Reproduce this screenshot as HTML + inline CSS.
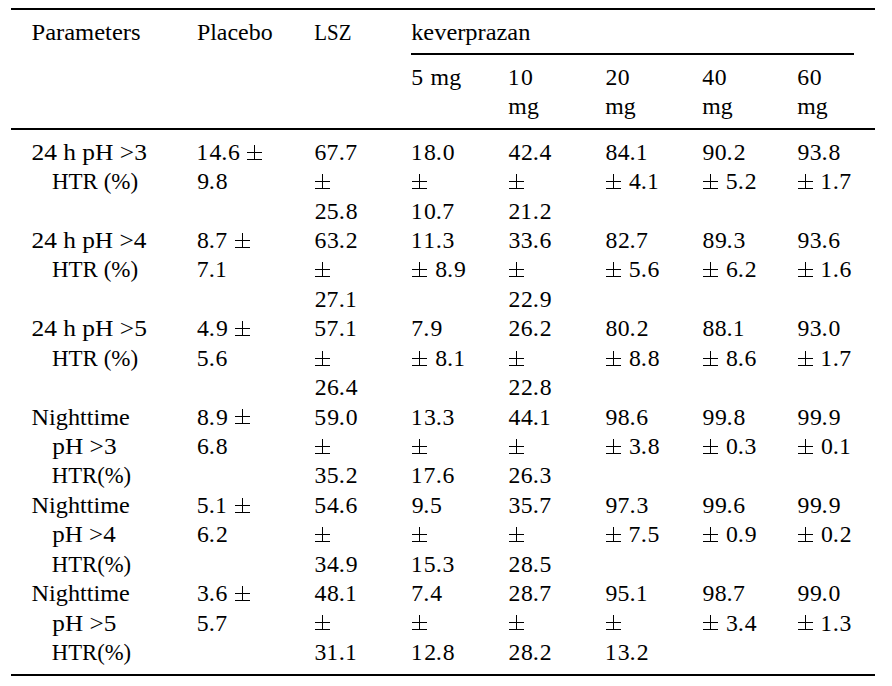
<!DOCTYPE html>
<html><head><meta charset="utf-8"><style>
html,body{margin:0;padding:0;background:#fff;width:892px;height:686px;overflow:hidden}
svg{display:block}
text{font-family:"Liberation Serif",serif;font-size:22.4px;fill:#000;white-space:pre}
</style></head><body>
<svg width="892" height="686" viewBox="0 0 892 686">
<rect x="11" y="8" width="864" height="2"/><rect x="411" y="53" width="443" height="2"/><rect x="11" y="128" width="864" height="2"/><rect x="11" y="674" width="864" height="2"/>
<rect x="247" y="159" width="15" height="1"/><rect x="247" y="152" width="15" height="1"/><rect x="254" y="145" width="1" height="15"/><rect x="315" y="188" width="15" height="1"/><rect x="315" y="181" width="15" height="1"/><rect x="322" y="174" width="1" height="15"/><rect x="412" y="188" width="15" height="1"/><rect x="412" y="181" width="15" height="1"/><rect x="419" y="174" width="1" height="15"/><rect x="509" y="188" width="15" height="1"/><rect x="509" y="181" width="15" height="1"/><rect x="516" y="174" width="1" height="15"/><rect x="606" y="188" width="15" height="1"/><rect x="606" y="181" width="15" height="1"/><rect x="613" y="174" width="1" height="15"/><rect x="703" y="188" width="15" height="1"/><rect x="703" y="181" width="15" height="1"/><rect x="710" y="174" width="1" height="15"/><rect x="798" y="188" width="15" height="1"/><rect x="798" y="181" width="15" height="1"/><rect x="805" y="174" width="1" height="15"/><rect x="235" y="247" width="15" height="1"/><rect x="235" y="240" width="15" height="1"/><rect x="242" y="233" width="1" height="15"/><rect x="315" y="276" width="15" height="1"/><rect x="315" y="269" width="15" height="1"/><rect x="322" y="262" width="1" height="15"/><rect x="412" y="276" width="15" height="1"/><rect x="412" y="269" width="15" height="1"/><rect x="419" y="262" width="1" height="15"/><rect x="509" y="276" width="15" height="1"/><rect x="509" y="269" width="15" height="1"/><rect x="516" y="262" width="1" height="15"/><rect x="606" y="276" width="15" height="1"/><rect x="606" y="269" width="15" height="1"/><rect x="613" y="262" width="1" height="15"/><rect x="703" y="276" width="15" height="1"/><rect x="703" y="269" width="15" height="1"/><rect x="710" y="262" width="1" height="15"/><rect x="798" y="276" width="15" height="1"/><rect x="798" y="269" width="15" height="1"/><rect x="805" y="262" width="1" height="15"/><rect x="235" y="335" width="15" height="1"/><rect x="235" y="328" width="15" height="1"/><rect x="242" y="321" width="1" height="15"/><rect x="315" y="365" width="15" height="1"/><rect x="315" y="358" width="15" height="1"/><rect x="322" y="351" width="1" height="15"/><rect x="412" y="365" width="15" height="1"/><rect x="412" y="358" width="15" height="1"/><rect x="419" y="351" width="1" height="15"/><rect x="509" y="365" width="15" height="1"/><rect x="509" y="358" width="15" height="1"/><rect x="516" y="351" width="1" height="15"/><rect x="606" y="365" width="15" height="1"/><rect x="606" y="358" width="15" height="1"/><rect x="613" y="351" width="1" height="15"/><rect x="703" y="365" width="15" height="1"/><rect x="703" y="358" width="15" height="1"/><rect x="710" y="351" width="1" height="15"/><rect x="798" y="365" width="15" height="1"/><rect x="798" y="358" width="15" height="1"/><rect x="805" y="351" width="1" height="15"/><rect x="235" y="423" width="15" height="1"/><rect x="235" y="416" width="15" height="1"/><rect x="242" y="409" width="1" height="15"/><rect x="315" y="453" width="15" height="1"/><rect x="315" y="446" width="15" height="1"/><rect x="322" y="439" width="1" height="15"/><rect x="412" y="453" width="15" height="1"/><rect x="412" y="446" width="15" height="1"/><rect x="419" y="439" width="1" height="15"/><rect x="509" y="453" width="15" height="1"/><rect x="509" y="446" width="15" height="1"/><rect x="516" y="439" width="1" height="15"/><rect x="606" y="453" width="15" height="1"/><rect x="606" y="446" width="15" height="1"/><rect x="613" y="439" width="1" height="15"/><rect x="703" y="453" width="15" height="1"/><rect x="703" y="446" width="15" height="1"/><rect x="710" y="439" width="1" height="15"/><rect x="798" y="453" width="15" height="1"/><rect x="798" y="446" width="15" height="1"/><rect x="805" y="439" width="1" height="15"/><rect x="235" y="512" width="15" height="1"/><rect x="235" y="505" width="15" height="1"/><rect x="242" y="498" width="1" height="15"/><rect x="315" y="541" width="15" height="1"/><rect x="315" y="534" width="15" height="1"/><rect x="322" y="527" width="1" height="15"/><rect x="412" y="541" width="15" height="1"/><rect x="412" y="534" width="15" height="1"/><rect x="419" y="527" width="1" height="15"/><rect x="509" y="541" width="15" height="1"/><rect x="509" y="534" width="15" height="1"/><rect x="516" y="527" width="1" height="15"/><rect x="606" y="541" width="15" height="1"/><rect x="606" y="534" width="15" height="1"/><rect x="613" y="527" width="1" height="15"/><rect x="703" y="541" width="15" height="1"/><rect x="703" y="534" width="15" height="1"/><rect x="710" y="527" width="1" height="15"/><rect x="798" y="541" width="15" height="1"/><rect x="798" y="534" width="15" height="1"/><rect x="805" y="527" width="1" height="15"/><rect x="235" y="600" width="15" height="1"/><rect x="235" y="593" width="15" height="1"/><rect x="242" y="586" width="1" height="15"/><rect x="315" y="629" width="15" height="1"/><rect x="315" y="622" width="15" height="1"/><rect x="322" y="615" width="1" height="15"/><rect x="412" y="629" width="15" height="1"/><rect x="412" y="622" width="15" height="1"/><rect x="419" y="615" width="1" height="15"/><rect x="509" y="629" width="15" height="1"/><rect x="509" y="622" width="15" height="1"/><rect x="516" y="615" width="1" height="15"/><rect x="606" y="629" width="15" height="1"/><rect x="606" y="622" width="15" height="1"/><rect x="613" y="615" width="1" height="15"/><rect x="703" y="629" width="15" height="1"/><rect x="703" y="622" width="15" height="1"/><rect x="710" y="615" width="1" height="15"/><rect x="798" y="629" width="15" height="1"/><rect x="798" y="622" width="15" height="1"/><rect x="805" y="615" width="1" height="15"/>
<text transform="translate(31.48,39.60) scale(1.0969,1)">Parameters</text>
<text transform="translate(196.90,39.60) scale(1.0686,1)">Placebo</text>
<text transform="translate(314.30,39.60) scale(0.9325,1)">LSZ</text>
<text transform="translate(411.15,39.60) scale(1.0903,1)">keverprazan</text>
<text transform="translate(411.37,84.50) scale(1.06,1)">5</text>
<text transform="translate(430.57,84.50) scale(1.0667,1)">mg</text>
<text transform="translate(508.00,84.50) scale(1.02,1)">1</text>
<text transform="translate(520.95,84.50) scale(1.06,1)">0</text>
<text transform="translate(508.37,113.70) scale(1.0631,1)">mg</text>
<text transform="translate(605.52,84.50) scale(1.06,1)">2</text>
<text transform="translate(617.85,84.50) scale(1.06,1)">0</text>
<text transform="translate(605.27,113.70) scale(1.0631,1)">mg</text>
<text transform="translate(702.34,84.50) scale(1.06,1)">4</text>
<text transform="translate(714.85,84.50) scale(1.06,1)">0</text>
<text transform="translate(702.27,113.70) scale(1.0631,1)">mg</text>
<text transform="translate(797.23,84.50) scale(1.06,1)">6</text>
<text transform="translate(809.85,84.50) scale(1.06,1)">0</text>
<text transform="translate(797.27,113.70) scale(1.0631,1)">mg</text>
<text transform="translate(31.46,159.80) scale(1.1368,1)">24 h pH &gt;3</text>
<text transform="translate(51.93,189.22) scale(1.0274,1)">HTR (%)</text>
<text transform="translate(196.60,159.80) scale(1.02,1)">1</text>
<text transform="translate(209.50,159.80) scale(1.06,1)">4</text>
<text transform="translate(221.24,159.80) scale(1.1,1)">.</text>
<text transform="translate(228.07,159.80) scale(1.06,1)">6</text>
<text transform="translate(197.20,189.22) scale(1.06,1)">9</text>
<text transform="translate(208.79,189.22) scale(1.1,1)">.</text>
<text transform="translate(215.77,189.22) scale(1.06,1)">8</text>
<text transform="translate(314.43,159.80) scale(1.06,1)">6</text>
<text transform="translate(326.61,159.80) scale(1.06,1)">7</text>
<text transform="translate(338.74,159.80) scale(1.1,1)">.</text>
<text transform="translate(345.29,159.80) scale(1.06,1)">7</text>
<text transform="translate(314.72,218.64) scale(1.06,1)">2</text>
<text transform="translate(326.82,218.64) scale(1.06,1)">5</text>
<text transform="translate(338.74,218.64) scale(1.1,1)">.</text>
<text transform="translate(345.73,218.64) scale(1.06,1)">8</text>
<text transform="translate(411.10,159.80) scale(1.02,1)">1</text>
<text transform="translate(424.05,159.80) scale(1.06,1)">8</text>
<text transform="translate(435.74,159.80) scale(1.1,1)">.</text>
<text transform="translate(442.73,159.80) scale(1.06,1)">0</text>
<text transform="translate(411.10,218.64) scale(1.02,1)">1</text>
<text transform="translate(424.05,218.64) scale(1.06,1)">0</text>
<text transform="translate(435.74,218.64) scale(1.1,1)">.</text>
<text transform="translate(442.29,218.64) scale(1.06,1)">7</text>
<text transform="translate(508.44,159.80) scale(1.06,1)">4</text>
<text transform="translate(521.08,159.80) scale(1.06,1)">2</text>
<text transform="translate(532.64,159.80) scale(1.1,1)">.</text>
<text transform="translate(539.58,159.80) scale(1.06,1)">4</text>
<text transform="translate(508.62,218.64) scale(1.06,1)">2</text>
<text transform="translate(520.45,218.64) scale(1.02,1)">1</text>
<text transform="translate(532.64,218.64) scale(1.1,1)">.</text>
<text transform="translate(539.76,218.64) scale(1.06,1)">2</text>
<text transform="translate(605.39,159.80) scale(1.06,1)">8</text>
<text transform="translate(617.80,159.80) scale(1.06,1)">4</text>
<text transform="translate(629.54,159.80) scale(1.1,1)">.</text>
<text transform="translate(636.03,159.80) scale(1.02,1)">1</text>
<text transform="translate(629.00,189.22) scale(1.06,1)">4</text>
<text transform="translate(640.74,189.22) scale(1.1,1)">.</text>
<text transform="translate(647.23,189.22) scale(1.02,1)">1</text>
<text transform="translate(702.50,159.80) scale(1.06,1)">9</text>
<text transform="translate(714.85,159.80) scale(1.06,1)">0</text>
<text transform="translate(726.54,159.80) scale(1.1,1)">.</text>
<text transform="translate(733.66,159.80) scale(1.06,1)">2</text>
<text transform="translate(725.82,189.22) scale(1.06,1)">5</text>
<text transform="translate(737.74,189.22) scale(1.1,1)">.</text>
<text transform="translate(744.86,189.22) scale(1.06,1)">2</text>
<text transform="translate(797.50,159.80) scale(1.06,1)">9</text>
<text transform="translate(809.74,159.80) scale(1.06,1)">3</text>
<text transform="translate(821.54,159.80) scale(1.1,1)">.</text>
<text transform="translate(828.53,159.80) scale(1.06,1)">8</text>
<text transform="translate(820.55,189.22) scale(1.02,1)">1</text>
<text transform="translate(832.74,189.22) scale(1.1,1)">.</text>
<text transform="translate(839.29,189.22) scale(1.06,1)">7</text>
<text transform="translate(31.47,248.06) scale(1.1312,1)">24 h pH &gt;4</text>
<text transform="translate(51.93,277.48) scale(1.0274,1)">HTR (%)</text>
<text transform="translate(197.09,248.06) scale(1.06,1)">8</text>
<text transform="translate(208.79,248.06) scale(1.1,1)">.</text>
<text transform="translate(215.33,248.06) scale(1.06,1)">7</text>
<text transform="translate(196.65,277.48) scale(1.06,1)">7</text>
<text transform="translate(208.79,277.48) scale(1.1,1)">.</text>
<text transform="translate(215.28,277.48) scale(1.02,1)">1</text>
<text transform="translate(314.43,248.06) scale(1.06,1)">6</text>
<text transform="translate(326.94,248.06) scale(1.06,1)">3</text>
<text transform="translate(338.74,248.06) scale(1.1,1)">.</text>
<text transform="translate(345.86,248.06) scale(1.06,1)">2</text>
<text transform="translate(314.72,306.90) scale(1.06,1)">2</text>
<text transform="translate(326.61,306.90) scale(1.06,1)">7</text>
<text transform="translate(338.74,306.90) scale(1.1,1)">.</text>
<text transform="translate(345.23,306.90) scale(1.02,1)">1</text>
<text transform="translate(411.10,248.06) scale(1.02,1)">1</text>
<text transform="translate(423.55,248.06) scale(1.02,1)">1</text>
<text transform="translate(435.74,248.06) scale(1.1,1)">.</text>
<text transform="translate(442.62,248.06) scale(1.06,1)">3</text>
<text transform="translate(435.25,277.48) scale(1.06,1)">8</text>
<text transform="translate(446.94,277.48) scale(1.1,1)">.</text>
<text transform="translate(454.03,277.48) scale(1.06,1)">9</text>
<text transform="translate(508.39,248.06) scale(1.06,1)">3</text>
<text transform="translate(520.84,248.06) scale(1.06,1)">3</text>
<text transform="translate(532.64,248.06) scale(1.1,1)">.</text>
<text transform="translate(539.47,248.06) scale(1.06,1)">6</text>
<text transform="translate(508.62,306.90) scale(1.06,1)">2</text>
<text transform="translate(521.08,306.90) scale(1.06,1)">2</text>
<text transform="translate(532.64,306.90) scale(1.1,1)">.</text>
<text transform="translate(539.73,306.90) scale(1.06,1)">9</text>
<text transform="translate(605.39,248.06) scale(1.06,1)">8</text>
<text transform="translate(617.98,248.06) scale(1.06,1)">2</text>
<text transform="translate(629.54,248.06) scale(1.1,1)">.</text>
<text transform="translate(636.09,248.06) scale(1.06,1)">7</text>
<text transform="translate(628.82,277.48) scale(1.06,1)">5</text>
<text transform="translate(640.74,277.48) scale(1.1,1)">.</text>
<text transform="translate(647.57,277.48) scale(1.06,1)">6</text>
<text transform="translate(702.39,248.06) scale(1.06,1)">8</text>
<text transform="translate(714.95,248.06) scale(1.06,1)">9</text>
<text transform="translate(726.54,248.06) scale(1.1,1)">.</text>
<text transform="translate(733.42,248.06) scale(1.06,1)">3</text>
<text transform="translate(725.89,277.48) scale(1.06,1)">6</text>
<text transform="translate(737.74,277.48) scale(1.1,1)">.</text>
<text transform="translate(744.86,277.48) scale(1.06,1)">2</text>
<text transform="translate(797.50,248.06) scale(1.06,1)">9</text>
<text transform="translate(809.74,248.06) scale(1.06,1)">3</text>
<text transform="translate(821.54,248.06) scale(1.1,1)">.</text>
<text transform="translate(828.37,248.06) scale(1.06,1)">6</text>
<text transform="translate(820.55,277.48) scale(1.02,1)">1</text>
<text transform="translate(832.74,277.48) scale(1.1,1)">.</text>
<text transform="translate(839.57,277.48) scale(1.06,1)">6</text>
<text transform="translate(31.46,336.32) scale(1.1368,1)">24 h pH &gt;5</text>
<text transform="translate(51.93,365.74) scale(1.0274,1)">HTR (%)</text>
<text transform="translate(197.04,336.32) scale(1.06,1)">4</text>
<text transform="translate(208.79,336.32) scale(1.1,1)">.</text>
<text transform="translate(215.88,336.32) scale(1.06,1)">9</text>
<text transform="translate(196.87,365.74) scale(1.06,1)">5</text>
<text transform="translate(208.79,365.74) scale(1.1,1)">.</text>
<text transform="translate(215.62,365.74) scale(1.06,1)">6</text>
<text transform="translate(314.37,336.32) scale(1.06,1)">5</text>
<text transform="translate(326.61,336.32) scale(1.06,1)">7</text>
<text transform="translate(338.74,336.32) scale(1.1,1)">.</text>
<text transform="translate(345.23,336.32) scale(1.02,1)">1</text>
<text transform="translate(314.72,395.16) scale(1.06,1)">2</text>
<text transform="translate(326.89,395.16) scale(1.06,1)">6</text>
<text transform="translate(338.74,395.16) scale(1.1,1)">.</text>
<text transform="translate(345.68,395.16) scale(1.06,1)">4</text>
<text transform="translate(411.15,336.32) scale(1.06,1)">7</text>
<text transform="translate(423.29,336.32) scale(1.1,1)">.</text>
<text transform="translate(430.38,336.32) scale(1.06,1)">9</text>
<text transform="translate(435.25,365.74) scale(1.06,1)">8</text>
<text transform="translate(446.94,365.74) scale(1.1,1)">.</text>
<text transform="translate(453.43,365.74) scale(1.02,1)">1</text>
<text transform="translate(508.62,336.32) scale(1.06,1)">2</text>
<text transform="translate(520.79,336.32) scale(1.06,1)">6</text>
<text transform="translate(532.64,336.32) scale(1.1,1)">.</text>
<text transform="translate(539.76,336.32) scale(1.06,1)">2</text>
<text transform="translate(508.62,395.16) scale(1.06,1)">2</text>
<text transform="translate(521.08,395.16) scale(1.06,1)">2</text>
<text transform="translate(532.64,395.16) scale(1.1,1)">.</text>
<text transform="translate(539.63,395.16) scale(1.06,1)">8</text>
<text transform="translate(605.39,336.32) scale(1.06,1)">8</text>
<text transform="translate(617.85,336.32) scale(1.06,1)">0</text>
<text transform="translate(629.54,336.32) scale(1.1,1)">.</text>
<text transform="translate(636.66,336.32) scale(1.06,1)">2</text>
<text transform="translate(629.05,365.74) scale(1.06,1)">8</text>
<text transform="translate(640.74,365.74) scale(1.1,1)">.</text>
<text transform="translate(647.73,365.74) scale(1.06,1)">8</text>
<text transform="translate(702.39,336.32) scale(1.06,1)">8</text>
<text transform="translate(714.85,336.32) scale(1.06,1)">8</text>
<text transform="translate(726.54,336.32) scale(1.1,1)">.</text>
<text transform="translate(733.03,336.32) scale(1.02,1)">1</text>
<text transform="translate(726.05,365.74) scale(1.06,1)">8</text>
<text transform="translate(737.74,365.74) scale(1.1,1)">.</text>
<text transform="translate(744.57,365.74) scale(1.06,1)">6</text>
<text transform="translate(797.50,336.32) scale(1.06,1)">9</text>
<text transform="translate(809.74,336.32) scale(1.06,1)">3</text>
<text transform="translate(821.54,336.32) scale(1.1,1)">.</text>
<text transform="translate(828.53,336.32) scale(1.06,1)">0</text>
<text transform="translate(820.55,365.74) scale(1.02,1)">1</text>
<text transform="translate(832.74,365.74) scale(1.1,1)">.</text>
<text transform="translate(839.29,365.74) scale(1.06,1)">7</text>
<text transform="translate(31.59,424.58) scale(1.0812,1)">Nighttime</text>
<text transform="translate(52.32,454.00) scale(1.1315,1)">pH &gt;3</text>
<text transform="translate(51.84,483.42) scale(1.0118,1)">HTR(%)</text>
<text transform="translate(197.09,424.58) scale(1.06,1)">8</text>
<text transform="translate(208.79,424.58) scale(1.1,1)">.</text>
<text transform="translate(215.88,424.58) scale(1.06,1)">9</text>
<text transform="translate(196.93,454.00) scale(1.06,1)">6</text>
<text transform="translate(208.79,454.00) scale(1.1,1)">.</text>
<text transform="translate(215.77,454.00) scale(1.06,1)">8</text>
<text transform="translate(314.37,424.58) scale(1.06,1)">5</text>
<text transform="translate(327.15,424.58) scale(1.06,1)">9</text>
<text transform="translate(338.74,424.58) scale(1.1,1)">.</text>
<text transform="translate(345.73,424.58) scale(1.06,1)">0</text>
<text transform="translate(314.49,483.42) scale(1.06,1)">3</text>
<text transform="translate(326.82,483.42) scale(1.06,1)">5</text>
<text transform="translate(338.74,483.42) scale(1.1,1)">.</text>
<text transform="translate(345.86,483.42) scale(1.06,1)">2</text>
<text transform="translate(411.10,424.58) scale(1.02,1)">1</text>
<text transform="translate(423.94,424.58) scale(1.06,1)">3</text>
<text transform="translate(435.74,424.58) scale(1.1,1)">.</text>
<text transform="translate(442.62,424.58) scale(1.06,1)">3</text>
<text transform="translate(411.10,483.42) scale(1.02,1)">1</text>
<text transform="translate(423.61,483.42) scale(1.06,1)">7</text>
<text transform="translate(435.74,483.42) scale(1.1,1)">.</text>
<text transform="translate(442.57,483.42) scale(1.06,1)">6</text>
<text transform="translate(508.44,424.58) scale(1.06,1)">4</text>
<text transform="translate(520.90,424.58) scale(1.06,1)">4</text>
<text transform="translate(532.64,424.58) scale(1.1,1)">.</text>
<text transform="translate(539.13,424.58) scale(1.02,1)">1</text>
<text transform="translate(508.62,483.42) scale(1.06,1)">2</text>
<text transform="translate(520.79,483.42) scale(1.06,1)">6</text>
<text transform="translate(532.64,483.42) scale(1.1,1)">.</text>
<text transform="translate(539.52,483.42) scale(1.06,1)">3</text>
<text transform="translate(605.50,424.58) scale(1.06,1)">9</text>
<text transform="translate(617.85,424.58) scale(1.06,1)">8</text>
<text transform="translate(629.54,424.58) scale(1.1,1)">.</text>
<text transform="translate(636.37,424.58) scale(1.06,1)">6</text>
<text transform="translate(628.94,454.00) scale(1.06,1)">3</text>
<text transform="translate(640.74,454.00) scale(1.1,1)">.</text>
<text transform="translate(647.73,454.00) scale(1.06,1)">8</text>
<text transform="translate(702.50,424.58) scale(1.06,1)">9</text>
<text transform="translate(714.95,424.58) scale(1.06,1)">9</text>
<text transform="translate(726.54,424.58) scale(1.1,1)">.</text>
<text transform="translate(733.53,424.58) scale(1.06,1)">8</text>
<text transform="translate(726.05,454.00) scale(1.06,1)">0</text>
<text transform="translate(737.74,454.00) scale(1.1,1)">.</text>
<text transform="translate(744.62,454.00) scale(1.06,1)">3</text>
<text transform="translate(797.50,424.58) scale(1.06,1)">9</text>
<text transform="translate(809.95,424.58) scale(1.06,1)">9</text>
<text transform="translate(821.54,424.58) scale(1.1,1)">.</text>
<text transform="translate(828.63,424.58) scale(1.06,1)">9</text>
<text transform="translate(821.05,454.00) scale(1.06,1)">0</text>
<text transform="translate(832.74,454.00) scale(1.1,1)">.</text>
<text transform="translate(839.23,454.00) scale(1.02,1)">1</text>
<text transform="translate(31.59,512.84) scale(1.0812,1)">Nighttime</text>
<text transform="translate(52.32,542.26) scale(1.1164,1)">pH &gt;4</text>
<text transform="translate(51.84,571.68) scale(1.0118,1)">HTR(%)</text>
<text transform="translate(196.87,512.84) scale(1.06,1)">5</text>
<text transform="translate(208.79,512.84) scale(1.1,1)">.</text>
<text transform="translate(215.28,512.84) scale(1.02,1)">1</text>
<text transform="translate(196.93,542.26) scale(1.06,1)">6</text>
<text transform="translate(208.79,542.26) scale(1.1,1)">.</text>
<text transform="translate(215.91,542.26) scale(1.06,1)">2</text>
<text transform="translate(314.37,512.84) scale(1.06,1)">5</text>
<text transform="translate(327.00,512.84) scale(1.06,1)">4</text>
<text transform="translate(338.74,512.84) scale(1.1,1)">.</text>
<text transform="translate(345.57,512.84) scale(1.06,1)">6</text>
<text transform="translate(314.49,571.68) scale(1.06,1)">3</text>
<text transform="translate(327.00,571.68) scale(1.06,1)">4</text>
<text transform="translate(338.74,571.68) scale(1.1,1)">.</text>
<text transform="translate(345.83,571.68) scale(1.06,1)">9</text>
<text transform="translate(411.70,512.84) scale(1.06,1)">9</text>
<text transform="translate(423.29,512.84) scale(1.1,1)">.</text>
<text transform="translate(430.05,512.84) scale(1.06,1)">5</text>
<text transform="translate(411.10,571.68) scale(1.02,1)">1</text>
<text transform="translate(423.82,571.68) scale(1.06,1)">5</text>
<text transform="translate(435.74,571.68) scale(1.1,1)">.</text>
<text transform="translate(442.62,571.68) scale(1.06,1)">3</text>
<text transform="translate(508.39,512.84) scale(1.06,1)">3</text>
<text transform="translate(520.72,512.84) scale(1.06,1)">5</text>
<text transform="translate(532.64,512.84) scale(1.1,1)">.</text>
<text transform="translate(539.19,512.84) scale(1.06,1)">7</text>
<text transform="translate(508.62,571.68) scale(1.06,1)">2</text>
<text transform="translate(520.95,571.68) scale(1.06,1)">8</text>
<text transform="translate(532.64,571.68) scale(1.1,1)">.</text>
<text transform="translate(539.40,571.68) scale(1.06,1)">5</text>
<text transform="translate(605.50,512.84) scale(1.06,1)">9</text>
<text transform="translate(617.41,512.84) scale(1.06,1)">7</text>
<text transform="translate(629.54,512.84) scale(1.1,1)">.</text>
<text transform="translate(636.42,512.84) scale(1.06,1)">3</text>
<text transform="translate(628.61,542.26) scale(1.06,1)">7</text>
<text transform="translate(640.74,542.26) scale(1.1,1)">.</text>
<text transform="translate(647.50,542.26) scale(1.06,1)">5</text>
<text transform="translate(702.50,512.84) scale(1.06,1)">9</text>
<text transform="translate(714.95,512.84) scale(1.06,1)">9</text>
<text transform="translate(726.54,512.84) scale(1.1,1)">.</text>
<text transform="translate(733.37,512.84) scale(1.06,1)">6</text>
<text transform="translate(726.05,542.26) scale(1.06,1)">0</text>
<text transform="translate(737.74,542.26) scale(1.1,1)">.</text>
<text transform="translate(744.83,542.26) scale(1.06,1)">9</text>
<text transform="translate(797.50,512.84) scale(1.06,1)">9</text>
<text transform="translate(809.95,512.84) scale(1.06,1)">9</text>
<text transform="translate(821.54,512.84) scale(1.1,1)">.</text>
<text transform="translate(828.63,512.84) scale(1.06,1)">9</text>
<text transform="translate(821.05,542.26) scale(1.06,1)">0</text>
<text transform="translate(832.74,542.26) scale(1.1,1)">.</text>
<text transform="translate(839.86,542.26) scale(1.06,1)">2</text>
<text transform="translate(31.59,601.10) scale(1.0812,1)">Nighttime</text>
<text transform="translate(52.32,630.52) scale(1.1265,1)">pH &gt;5</text>
<text transform="translate(51.84,659.94) scale(1.0118,1)">HTR(%)</text>
<text transform="translate(196.99,601.10) scale(1.06,1)">3</text>
<text transform="translate(208.79,601.10) scale(1.1,1)">.</text>
<text transform="translate(215.62,601.10) scale(1.06,1)">6</text>
<text transform="translate(196.87,630.52) scale(1.06,1)">5</text>
<text transform="translate(208.79,630.52) scale(1.1,1)">.</text>
<text transform="translate(215.33,630.52) scale(1.06,1)">7</text>
<text transform="translate(314.54,601.10) scale(1.06,1)">4</text>
<text transform="translate(327.05,601.10) scale(1.06,1)">8</text>
<text transform="translate(338.74,601.10) scale(1.1,1)">.</text>
<text transform="translate(345.23,601.10) scale(1.02,1)">1</text>
<text transform="translate(314.49,659.94) scale(1.06,1)">3</text>
<text transform="translate(326.55,659.94) scale(1.02,1)">1</text>
<text transform="translate(338.74,659.94) scale(1.1,1)">.</text>
<text transform="translate(345.23,659.94) scale(1.02,1)">1</text>
<text transform="translate(411.15,601.10) scale(1.06,1)">7</text>
<text transform="translate(423.29,601.10) scale(1.1,1)">.</text>
<text transform="translate(430.23,601.10) scale(1.06,1)">4</text>
<text transform="translate(411.10,659.94) scale(1.02,1)">1</text>
<text transform="translate(424.18,659.94) scale(1.06,1)">2</text>
<text transform="translate(435.74,659.94) scale(1.1,1)">.</text>
<text transform="translate(442.73,659.94) scale(1.06,1)">8</text>
<text transform="translate(508.62,601.10) scale(1.06,1)">2</text>
<text transform="translate(520.95,601.10) scale(1.06,1)">8</text>
<text transform="translate(532.64,601.10) scale(1.1,1)">.</text>
<text transform="translate(539.19,601.10) scale(1.06,1)">7</text>
<text transform="translate(508.62,659.94) scale(1.06,1)">2</text>
<text transform="translate(520.95,659.94) scale(1.06,1)">8</text>
<text transform="translate(532.64,659.94) scale(1.1,1)">.</text>
<text transform="translate(539.76,659.94) scale(1.06,1)">2</text>
<text transform="translate(605.50,601.10) scale(1.06,1)">9</text>
<text transform="translate(617.62,601.10) scale(1.06,1)">5</text>
<text transform="translate(629.54,601.10) scale(1.1,1)">.</text>
<text transform="translate(636.03,601.10) scale(1.02,1)">1</text>
<text transform="translate(604.90,659.94) scale(1.02,1)">1</text>
<text transform="translate(617.74,659.94) scale(1.06,1)">3</text>
<text transform="translate(629.54,659.94) scale(1.1,1)">.</text>
<text transform="translate(636.66,659.94) scale(1.06,1)">2</text>
<text transform="translate(702.50,601.10) scale(1.06,1)">9</text>
<text transform="translate(714.85,601.10) scale(1.06,1)">8</text>
<text transform="translate(726.54,601.10) scale(1.1,1)">.</text>
<text transform="translate(733.09,601.10) scale(1.06,1)">7</text>
<text transform="translate(725.94,630.52) scale(1.06,1)">3</text>
<text transform="translate(737.74,630.52) scale(1.1,1)">.</text>
<text transform="translate(744.68,630.52) scale(1.06,1)">4</text>
<text transform="translate(797.50,601.10) scale(1.06,1)">9</text>
<text transform="translate(809.95,601.10) scale(1.06,1)">9</text>
<text transform="translate(821.54,601.10) scale(1.1,1)">.</text>
<text transform="translate(828.53,601.10) scale(1.06,1)">0</text>
<text transform="translate(820.55,630.52) scale(1.02,1)">1</text>
<text transform="translate(832.74,630.52) scale(1.1,1)">.</text>
<text transform="translate(839.62,630.52) scale(1.06,1)">3</text>
</svg></body></html>
